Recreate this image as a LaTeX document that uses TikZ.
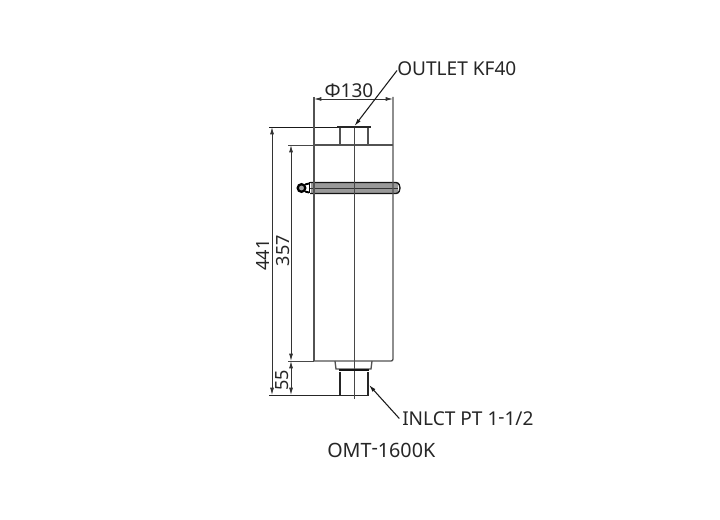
\documentclass[tikz,border=0pt]{standalone}
\usepackage{fontspec}
\setmainfont{Noto Sans}
\usetikzlibrary{arrows.meta}
\newcommand{\rhy}{\raisebox{0.12em}{-}}
\tikzset{
  dimline/.style={draw=black!80,line width=0.65pt,{Latex[length=5.5pt,width=3pt]}-{Latex[length=5.5pt,width=3pt]}},
  extline/.style={draw=black!72,line width=0.7pt},
  bodyline/.style={draw=black!68,line width=1pt},
  leader/.style={draw=black!90,line width=0.8pt,{Latex[length=5.5pt,width=3pt]}-},
  lbl/.style={inner sep=0pt,text=black!85,font=\fontsize{14.3}{16}\selectfont}
}
\begin{document}
\begin{tikzpicture}[x=0.75pt,y=-0.75pt]
\useasboundingbox (0,0) rectangle (720,520);
\coordinate (flangeL) at (337,127);
\coordinate (flangeR) at (371,127);
\coordinate (topdim) at (272,127);
\coordinate (bodydim) at (291,145);
\coordinate (basedim) at (272,395);
\coordinate (basedimB) at (291,395);
\coordinate (stepdim) at (291,361);
\coordinate (dimL) at (314,99);
\coordinate (dimR) at (393,99);
\coordinate (outTip) at (354.5,126);
\coordinate (inTip) at (369,385);
% band
\fill[black!40] (311,183) rectangle (398,193);
\draw[draw=black!92,line width=1pt] (310,182.5) -- (396,182.5) .. controls (399,182.5) and (400,186) .. (400,188) .. controls (400,190) and (399,193.5) .. (396,193.5) -- (310,193.5);
\draw[draw=black!80,line width=0.75pt] (310,188.5) -- (398,188.5);
\draw[draw=black,line width=1.2pt] (309.5,182.5) -- (309.5,193.5);
% knob
\draw[draw=black,line width=1.7pt,fill=black!35] (301.5,188) circle[radius=3.8];
\draw[draw=black,line width=1.4pt] (305,184.5) -- (309,183.5) (305,191.5) -- (309,192.5);
% extension lines
\draw[extline,draw=black!90] (269,127) -- (flangeL);
\draw[extline] (288,145) -- (314,145);
\draw[extline,draw=black!85] (269,395) -- (369,395);
\draw[extline] (288,361) -- (314,361);
% body
\draw[bodyline] (314,97) -- (314,361);
\draw[bodyline] (393,97) -- (393,359) .. controls (393,360.5) and (392,361) .. (391,361) -- (314,361);
\draw[bodyline] (314,145) -- (393,145);
% centre line
\draw[extline] (354,126) -- (354,399);
% outlet neck and flange
\draw[bodyline] (340,128) -- (340,145);
\draw[bodyline] (368,128) -- (368,145);
\draw[draw=black!85,line width=1.6pt] (flangeL) -- (flangeR);
% inlet
\draw[bodyline] (335,361) -- (336,369) -- (371,369) -- (372,361);
\draw[draw=black!92,line width=1.5pt] (338.5,370) -- (368.5,370);
\draw[draw=black!85,line width=1.5pt] (340,372) -- (340,395);
\draw[draw=black!85,line width=1.5pt] (368,372) -- (368,395);
% dimensions
\draw[dimline] (topdim) -- (basedim);
\draw[dimline] (bodydim) -- (stepdim);
\draw[dimline] (stepdim) -- (basedimB);
\draw[dimline] (dimL) -- (dimR);
% labels
\node[lbl,anchor=west] (outlet) at (397,68.5) {OUTLET KF40};
\node[lbl,anchor=west] (inlet) at (402,418.5) {INLCT PT 1\rhy1/2};
\node[lbl,anchor=west,font=\fontsize{14.8}{16}\selectfont] (model) at (327,450) {OMT\rhy1600K};
\draw[leader] (outTip) -- ([yshift=-1.5pt]outlet.west);
\draw[leader] (inTip) -- ([xshift=-2pt]inlet.west);
\node[lbl] (d130) at (349,90.5) {Φ130};
\node[lbl,rotate=90,font=\fontsize{13.6}{16}\selectfont] (d441) at (263,255) {441};
\node[lbl,rotate=90,font=\fontsize{13.6}{16}\selectfont] (d357) at (283,250.5) {357};
\node[lbl,rotate=90,font=\fontsize{13.6}{16}\selectfont] (d55) at (282,380) {55};
\end{tikzpicture}
\end{document}
